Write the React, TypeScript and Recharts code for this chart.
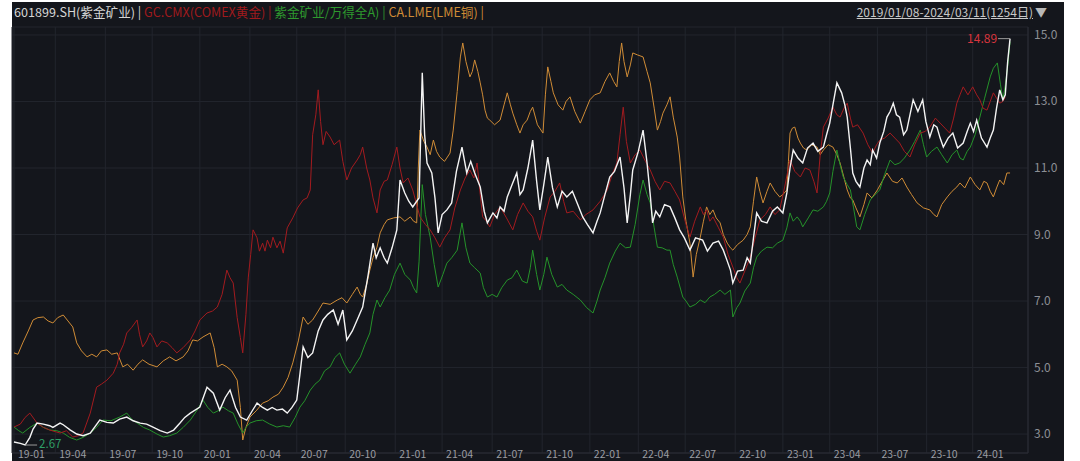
import React from 'react';
import { LineChart, Line, XAxis, YAxis, CartesianGrid, ReferenceDot } from 'recharts';

// [trading-day index, value]
const zijinPrice: [number, number][] = [
  [0, 2.76], [8, 2.72], [14, 2.67], [20, 2.9], [24, 3.15], [29, 3.33], [37, 3.3], [45, 3.25], [49, 3.2], [58, 3.33],
  [62, 3.28], [71, 3.12], [79, 3.0], [87, 2.95], [96, 3.03], [108, 3.42], [117, 3.35], [125, 3.33], [133, 3.45], [142, 3.51],
  [150, 3.4], [159, 3.33], [167, 3.3], [175, 3.21], [184, 3.1], [193, 3.03], [201, 3.12], [209, 3.33], [215, 3.5], [222, 3.63],
  [234, 3.81], [243, 4.41], [251, 4.23], [259, 3.72], [266, 4.1], [272, 4.32], [279, 3.8], [285, 3.51], [293, 3.42], [300, 3.7],
  [306, 3.93], [313, 3.8], [319, 3.72], [325, 3.8], [331, 3.72], [338, 3.75], [344, 3.63], [350, 3.8], [356, 4.02], [360, 4.8],
  [364, 5.62], [370, 5.3], [376, 5.44], [383, 6.1], [389, 6.43], [395, 6.6], [402, 6.73], [408, 6.3], [414, 6.73], [419, 5.83],
  [426, 6.1], [432, 6.43], [439, 6.82], [446, 7.8], [452, 8.74], [456, 8.3], [461, 8.6], [466, 8.3], [470, 8.14], [476, 8.6],
  [482, 9.14], [486, 10.64], [492, 10.25], [497, 10.0], [502, 9.83], [507, 10.0], [510, 10.1], [514, 13.86], [517, 12.0], [520, 11.15],
  [526, 10.85], [530, 10.1], [534, 9.05], [539, 9.6], [545, 9.74], [551, 9.95], [557, 10.9], [564, 11.63], [570, 10.85], [575, 11.2],
  [580, 10.85], [587, 10.43], [592, 9.7], [596, 9.35], [603, 9.65], [608, 9.5], [612, 9.83], [617, 9.7], [621, 10.13], [627, 10.5],
  [633, 10.85], [637, 10.2], [641, 10.34], [647, 11.0], [653, 11.84], [658, 10.6], [662, 9.74], [667, 10.5], [672, 11.33], [678, 10.4],
  [684, 9.83], [690, 10.3], [696, 10.13], [703, 10.3], [709, 9.95], [716, 9.53], [722, 9.3], [729, 9.05], [734, 9.4], [738, 9.65],
  [744, 10.2], [750, 10.73], [756, 10.9], [763, 11.33], [768, 10.4], [772, 9.35], [776, 10.2], [779, 10.94], [786, 11.5], [792, 12.14],
  [797, 11.15], [801, 10.2], [804, 9.35], [808, 9.7], [813, 9.53], [819, 9.9], [826, 9.83], [832, 9.5], [838, 9.14], [844, 8.9],
  [851, 8.53], [858, 8.9], [867, 8.83], [873, 8.5], [880, 8.74], [887, 8.8], [893, 8.53], [898, 8.2], [902, 7.93], [905, 7.54],
  [911, 7.9], [918, 7.93], [923, 8.3], [927, 8.14], [931, 8.9], [935, 9.65], [941, 9.4], [948, 9.35], [955, 9.7], [961, 9.83],
  [968, 9.65], [973, 10.25], [977, 11.0], [981, 11.54], [987, 11.3], [993, 11.15], [999, 11.6], [1006, 11.75], [1012, 11.5], [1019, 11.63],
  [1023, 12.0], [1027, 12.35], [1031, 12.9], [1036, 13.56], [1042, 13.26], [1046, 12.9], [1049, 12.53], [1053, 11.6], [1056, 10.85], [1060, 10.6],
  [1065, 10.43], [1070, 11.0], [1074, 11.24], [1078, 11.1], [1081, 11.54], [1086, 11.3], [1090, 11.75], [1095, 12.1], [1099, 12.53], [1103, 12.7],
  [1107, 12.95], [1111, 12.6], [1115, 12.53], [1120, 12.0], [1124, 12.14], [1128, 12.6], [1132, 13.05], [1138, 12.7], [1144, 13.05], [1148, 12.4],
  [1153, 11.93], [1158, 12.3], [1162, 12.23], [1166, 11.9], [1170, 11.63], [1176, 11.9], [1182, 12.05], [1188, 11.6], [1195, 11.75], [1200, 12.1],
  [1204, 12.35], [1208, 12.1], [1212, 12.44], [1218, 11.9], [1225, 11.63], [1229, 11.9], [1233, 12.14], [1237, 12.8], [1241, 13.35], [1245, 13.05],
  [1248, 13.2], [1251, 14.2], [1254, 14.89],
];

const comexGold: [number, number][] = [
  [0, 3.21], [8, 3.3], [14, 3.5], [20, 3.63], [29, 3.33], [37, 3.2], [45, 3.12], [58, 3.03], [66, 3.1], [74, 2.91],
  [81, 2.95], [87, 3.03], [96, 3.63], [104, 4.41], [110, 4.5], [117, 4.62], [125, 4.83], [130, 5.1], [133, 5.44], [138, 5.7],
  [142, 6.04], [148, 6.2], [155, 6.43], [158, 6.0], [162, 5.62], [167, 5.8], [171, 6.04], [175, 5.9], [180, 5.62], [186, 5.8],
  [193, 5.74], [199, 5.6], [205, 5.44], [213, 5.6], [222, 5.83], [228, 6.1], [234, 6.43], [243, 6.64], [250, 6.7], [256, 6.82],
  [262, 7.2], [268, 7.93], [272, 7.7], [276, 7.54], [281, 6.5], [285, 5.9], [288, 5.44], [292, 6.6], [295, 7.72], [298, 8.4],
  [301, 9.14], [306, 8.9], [309, 8.5], [313, 8.74], [316, 8.5], [319, 8.83], [323, 8.6], [326, 8.92], [331, 8.6], [335, 8.8],
  [339, 8.44], [344, 9.2], [351, 9.5], [357, 9.8], [364, 10.04], [369, 10.1], [373, 10.34], [376, 12.0], [380, 12.6], [383, 13.35],
  [386, 12.4], [389, 11.7], [393, 12.1], [398, 11.93], [403, 11.7], [410, 11.84], [414, 11.2], [419, 10.64], [425, 11.0], [432, 11.24],
  [436, 11.4], [439, 11.63], [444, 11.0], [448, 10.64], [452, 10.1], [457, 9.65], [461, 10.34], [466, 10.6], [470, 10.64], [476, 11.1],
  [482, 11.63], [486, 11.0], [490, 10.55], [496, 10.7], [502, 10.34], [507, 9.9], [511, 9.53], [518, 9.3], [524, 9.14], [530, 8.9],
  [536, 8.62], [542, 8.9], [549, 9.14], [555, 9.8], [562, 10.34], [568, 10.7], [574, 10.94], [579, 10.7], [583, 11.15], [587, 10.2],
  [590, 9.53], [595, 9.4], [599, 9.23], [605, 9.6], [612, 9.83], [620, 9.5], [628, 9.14], [634, 9.6], [641, 9.95], [647, 9.7],
  [653, 9.53], [658, 9.1], [662, 8.83], [668, 9.5], [675, 10.13], [681, 10.3], [687, 10.55], [692, 10.0], [696, 9.65], [704, 9.7],
  [713, 9.44], [720, 9.6], [729, 9.74], [738, 10.0], [747, 10.34], [753, 10.8], [759, 11.15], [763, 12.0], [767, 12.83], [771, 11.8],
  [776, 11.15], [782, 11.4], [788, 11.54], [795, 11.2], [801, 10.94], [807, 10.6], [813, 10.34], [819, 10.6], [826, 10.55], [832, 10.3],
  [838, 10.04], [845, 9.4], [851, 8.92], [857, 9.4], [864, 9.83], [868, 9.6], [872, 9.74], [876, 9.4], [880, 9.53], [887, 9.2],
  [893, 8.92], [899, 8.4], [905, 8.02], [910, 7.7], [914, 7.54], [920, 7.9], [927, 8.32], [933, 8.9], [939, 9.44], [946, 9.6],
  [952, 9.83], [958, 9.6], [964, 9.74], [970, 10.4], [977, 11.24], [983, 10.9], [990, 10.73], [996, 11.0], [1002, 10.94], [1007, 10.6],
  [1011, 10.25], [1015, 11.4], [1019, 12.23], [1025, 12.5], [1031, 12.83], [1036, 12.6], [1040, 12.53], [1045, 12.8], [1049, 12.95], [1053, 12.5],
  [1056, 12.23], [1062, 12.3], [1069, 12.05], [1075, 11.7], [1081, 11.45], [1086, 11.7], [1090, 11.84], [1096, 11.9], [1103, 12.05], [1109, 11.9],
  [1115, 11.75], [1121, 11.5], [1128, 11.33], [1134, 11.7], [1141, 12.05], [1147, 12.1], [1153, 12.23], [1160, 12.5], [1166, 12.35], [1172, 12.2],
  [1178, 12.05], [1183, 12.5], [1187, 12.95], [1191, 13.2], [1195, 13.44], [1201, 13.2], [1207, 13.44], [1212, 13.2], [1216, 13.05], [1220, 12.8],
  [1225, 12.74], [1229, 13.0], [1233, 13.26], [1237, 13.1], [1241, 12.95], [1245, 13.0], [1248, 13.14],
];

const zijinVsWindA: [number, number][] = [
  [0, 3.21], [6, 3.1], [11, 3.03], [20, 3.2], [29, 3.33], [37, 3.2], [45, 3.12], [54, 3.1], [62, 3.03], [70, 2.9],
  [79, 2.82], [87, 2.9], [96, 3.03], [104, 3.2], [112, 3.42], [122, 3.4], [133, 3.51], [142, 3.63], [148, 3.45], [155, 3.33],
  [163, 3.2], [171, 3.12], [180, 3.0], [188, 2.91], [196, 2.95], [205, 3.03], [213, 3.2], [222, 3.42], [230, 3.7], [238, 4.02],
  [244, 3.8], [251, 3.63], [257, 3.7], [263, 3.81], [270, 3.7], [276, 3.63], [282, 3.3], [288, 3.03], [292, 3.2], [297, 3.33],
  [305, 3.4], [313, 3.42], [322, 3.3], [331, 3.21], [339, 3.25], [347, 3.21], [354, 3.5], [360, 3.81], [366, 4.0], [373, 4.32],
  [379, 4.5], [385, 4.62], [391, 4.9], [398, 5.02], [404, 5.3], [410, 5.44], [416, 5.1], [423, 4.83], [430, 5.1], [436, 5.32],
  [442, 5.7], [448, 6.04], [452, 6.6], [457, 7.03], [461, 6.82], [467, 7.1], [473, 7.33], [479, 7.8], [486, 8.14], [492, 7.8],
  [499, 7.63], [503, 7.4], [507, 7.24], [510, 8.2], [514, 10.5], [518, 9.6], [524, 8.92], [529, 8.1], [534, 7.42], [540, 7.8],
  [545, 8.14], [551, 8.3], [558, 8.53], [564, 9.35], [569, 8.6], [574, 8.14], [580, 8.0], [587, 7.84], [591, 7.4], [596, 7.12],
  [602, 7.2], [608, 7.12], [614, 7.4], [621, 7.63], [627, 7.7], [633, 7.93], [640, 7.6], [646, 7.54], [650, 8.0], [653, 8.53],
  [658, 7.8], [662, 7.33], [667, 7.8], [671, 8.32], [677, 7.8], [684, 7.42], [690, 7.5], [696, 7.33], [704, 7.2], [713, 7.03],
  [721, 6.8], [729, 6.64], [734, 7.0], [738, 7.33], [744, 7.7], [750, 8.14], [757, 8.5], [763, 8.74], [770, 8.6], [776, 8.62],
  [782, 9.3], [788, 10.2], [792, 10.64], [797, 10.2], [801, 9.95], [806, 9.2], [810, 8.62], [816, 8.6], [822, 8.53], [826, 8.53],
  [830, 8.1], [835, 7.72], [842, 7.12], [846, 7.0], [851, 6.82], [858, 6.9], [864, 7.03], [870, 6.95], [876, 7.12], [882, 7.2],
  [889, 7.33], [895, 7.2], [902, 7.33], [905, 6.52], [910, 6.8], [914, 6.94], [920, 7.3], [927, 7.54], [931, 8.0], [935, 8.32],
  [941, 8.5], [948, 8.62], [955, 8.6], [961, 8.74], [968, 8.83], [973, 9.2], [977, 9.65], [981, 9.4], [986, 9.53], [990, 9.4],
  [993, 9.23], [1000, 9.5], [1006, 9.74], [1012, 9.7], [1019, 9.83], [1023, 10.0], [1027, 10.25], [1031, 10.9], [1036, 11.54], [1040, 11.1],
  [1044, 10.73], [1049, 10.5], [1053, 10.34], [1057, 9.8], [1061, 9.23], [1065, 9.14], [1071, 9.6], [1078, 10.04], [1084, 10.2], [1090, 10.34],
  [1096, 10.8], [1103, 11.24], [1109, 11.1], [1115, 11.15], [1121, 11.3], [1128, 11.54], [1134, 11.8], [1141, 12.14], [1145, 11.7], [1149, 11.33],
  [1155, 11.5], [1162, 11.63], [1168, 11.4], [1175, 11.15], [1181, 11.4], [1187, 11.54], [1191, 11.3], [1195, 11.24], [1200, 11.5], [1204, 11.63],
  [1210, 12.0], [1216, 12.53], [1222, 13.1], [1229, 13.74], [1233, 14.0], [1238, 14.16], [1242, 13.5], [1245, 13.05], [1248, 13.5], [1251, 14.04],
  [1254, 14.8],
];

const lmeCopper: [number, number][] = [
  [0, 5.44], [5, 5.4], [11, 5.74], [18, 6.1], [24, 6.43], [30, 6.5], [37, 6.52], [43, 6.4], [49, 6.34], [55, 6.5],
  [62, 6.58], [68, 6.4], [74, 6.22], [79, 5.74], [85, 5.5], [92, 5.32], [98, 5.4], [104, 5.32], [110, 5.5], [117, 5.53],
  [123, 5.4], [130, 5.44], [137, 5.02], [143, 5.1], [150, 4.92], [156, 5.1], [162, 5.23], [170, 5.1], [180, 5.02], [188, 5.2],
  [196, 5.32], [204, 5.2], [213, 5.32], [219, 5.5], [225, 5.83], [231, 5.8], [238, 5.92], [247, 6.04], [252, 5.6], [256, 5.02],
  [262, 5.1], [268, 5.02], [274, 4.9], [281, 4.62], [285, 3.8], [288, 2.82], [292, 3.2], [297, 3.51], [305, 3.7], [313, 3.93],
  [320, 4.0], [326, 4.11], [333, 4.2], [339, 4.41], [345, 4.7], [351, 5.14], [358, 5.8], [364, 6.52], [370, 6.3], [376, 6.43],
  [383, 6.7], [389, 6.94], [398, 6.9], [407, 7.03], [413, 7.1], [419, 6.94], [426, 7.2], [432, 7.42], [436, 7.2], [439, 7.12],
  [444, 7.5], [448, 7.93], [452, 8.3], [457, 8.62], [461, 9.05], [466, 9.3], [470, 9.44], [478, 9.5], [486, 9.53], [492, 9.4],
  [499, 9.53], [503, 9.4], [507, 9.35], [509, 11.0], [511, 12.14], [516, 11.8], [520, 11.63], [524, 11.4], [528, 11.84], [532, 11.5],
  [536, 11.33], [542, 11.2], [549, 11.45], [553, 12.14], [558, 13.3], [562, 14.34], [565, 14.76], [569, 14.2], [574, 13.74], [577, 13.9],
  [580, 14.25], [584, 13.9], [587, 13.56], [590, 13.2], [593, 12.74], [596, 12.5], [599, 12.44], [605, 12.3], [612, 12.44], [617, 12.9],
  [621, 13.26], [625, 12.9], [628, 12.65], [633, 12.3], [637, 12.05], [641, 12.3], [646, 12.44], [650, 12.7], [653, 12.83], [659, 12.3],
  [666, 12.05], [669, 13.2], [672, 14.04], [676, 13.6], [679, 13.26], [685, 12.9], [691, 12.74], [695, 13.0], [700, 13.14], [706, 12.7],
  [713, 12.35], [719, 12.7], [725, 13.05], [731, 13.2], [738, 13.26], [744, 13.6], [750, 13.86], [755, 13.6], [759, 13.44], [762, 14.2],
  [765, 14.76], [768, 14.2], [772, 13.74], [776, 14.1], [779, 14.46], [785, 14.4], [792, 14.34], [797, 13.9], [801, 13.56], [806, 12.8],
  [810, 12.14], [814, 12.4], [817, 12.65], [822, 12.9], [826, 13.14], [830, 12.53], [835, 11.93], [838, 11.33], [842, 10.13], [846, 9.4],
  [851, 8.74], [855, 7.72], [859, 8.4], [864, 8.92], [868, 9.4], [872, 9.83], [876, 9.6], [880, 9.74], [884, 9.5], [889, 9.35],
  [893, 9.0], [898, 8.74], [902, 8.6], [905, 8.53], [911, 8.7], [918, 8.83], [923, 9.0], [927, 9.23], [931, 10.0], [935, 10.73],
  [939, 10.3], [943, 9.95], [948, 10.3], [952, 10.55], [958, 10.3], [964, 10.13], [968, 10.2], [973, 10.34], [975, 11.2], [977, 12.05],
  [980, 12.2], [983, 12.23], [987, 11.9], [990, 11.75], [994, 11.6], [998, 11.54], [1004, 11.7], [1011, 11.63], [1015, 11.4], [1019, 11.54],
  [1025, 11.7], [1031, 11.63], [1036, 11.4], [1040, 11.15], [1045, 10.7], [1049, 10.34], [1053, 10.1], [1056, 10.04], [1060, 9.8], [1065, 9.53],
  [1070, 9.9], [1074, 10.25], [1080, 10.1], [1087, 10.34], [1093, 10.6], [1099, 10.85], [1106, 10.6], [1112, 10.55], [1118, 10.7], [1124, 10.43],
  [1130, 10.2], [1137, 9.95], [1145, 9.8], [1153, 9.74], [1158, 9.6], [1162, 9.53], [1168, 9.9], [1175, 10.13], [1181, 10.3], [1187, 10.43],
  [1191, 10.55], [1197, 10.4], [1204, 10.73], [1210, 10.5], [1216, 10.34], [1221, 10.6], [1225, 10.55], [1229, 10.3], [1233, 10.13], [1237, 10.4],
  [1241, 10.64], [1246, 10.5], [1250, 10.85], [1254, 10.85],
];

const tickDays = [0, 52, 115, 174, 234, 297, 356, 417, 480, 539, 602, 665, 725, 786, 845, 908, 968, 1027, 1087, 1149, 1207];
const tickLabels = ['19-01', '19-04', '19-07', '19-10', '20-01', '20-04', '20-07', '20-10', '21-01', '21-04', '21-07',
  '21-10', '22-01', '22-04', '22-07', '22-10', '23-01', '23-04', '23-07', '23-10', '24-01'];
const yTicks = [3, 5, 7, 9, 11, 13, 15];

const maxPoint = { day: 1254, value: 14.89, label: '14.89' };
const minPoint = { day: 14, value: 2.67, label: '2.67' };

const toRows = (pairs: [number, number][]) => pairs.map(([d, v]) => ({ d, v }));

const FONT = '"Noto Sans CJK SC", "Noto Sans", sans-serif';

const XTick = (props: any) => {
  const { x, y, payload } = props;
  const idx = tickDays.indexOf(payload.value);
  const label = idx >= 0 ? tickLabels[idx] : '';
  return (
    <text x={x + 4} y={y + 5} fill="#9a9ca2" fontSize={10.5} fontFamily={FONT} textAnchor="start">
      {label}
    </text>
  );
};

const YTick = (props: any) => {
  const { x, y, payload } = props;
  return (
    <text x={x + 6} y={y} dy={4} fill="#8c8f95" fontSize={12} fontFamily={FONT} textAnchor="start">
      {Number(payload.value).toFixed(1)}
    </text>
  );
};

export default function App() {
  return (
    <div style={{ position: 'fixed', left: 0, top: 0, width: 1080, height: 461, background: '#ffffff', overflow: 'hidden' }}>
      <div style={{ position: 'absolute', left: 12, top: 2, width: 1052, height: 459, background: '#14161c' }} />
      <div style={{ position: 'absolute', left: 14, top: 4, fontSize: 12.6, lineHeight: '16px', fontFamily: FONT, whiteSpace: 'pre' }}>
        <span style={{ color: '#d6d6d6' }}>601899.SH(紫金矿业) | </span>
        <span style={{ color: '#a01a1d' }}>GC.CMX(COMEX黄金) | </span>
        <span style={{ color: '#2e9a2e' }}>紫金矿业/万得全A) | </span>
        <span style={{ color: '#d08c36' }}>CA.LME(LME铜) |</span>
      </div>
      <div style={{ position: 'absolute', right: 33, top: 4, fontSize: 12, lineHeight: '16px', fontFamily: FONT, whiteSpace: 'pre', color: '#c8c8c8' }}>
        <span style={{ textDecoration: 'underline' }}>2019/01/08-2024/03/11(1254日)</span>
        <span style={{ color: '#b8b8b8', marginLeft: 2 }}>▼</span>
      </div>
      <div style={{ position: 'absolute', left: 0, top: 0 }}>
        <LineChart width={1080} height={461} margin={{ top: 27, right: 0, bottom: 0, left: 12 }}>
          <CartesianGrid stroke="#22252d" strokeWidth={1} />
          <XAxis
            type="number"
            dataKey="d"
            domain={[-2.5, 1276.6]}
            ticks={tickDays}
            allowDataOverflow
            height={8}
            axisLine={{ stroke: '#2a2d35' }}
            tickLine={false}
            tickSize={0}
            tickMargin={0}
            tick={<XTick />}
            interval={0}
          />
          <YAxis
            type="number"
            orientation="right"
            domain={[2.43, 15.24]}
            ticks={yTicks}
            allowDataOverflow
            width={52}
            axisLine={{ stroke: '#2a2d35' }}
            tickLine={false}
            tickSize={0}
            tickMargin={0}
            tick={<YTick />}
            interval={0}
          />
          <Line data={toRows(lmeCopper)} dataKey="v" type="linear" stroke="#d08c36" strokeWidth={1} dot={false} isAnimationActive={false} />
          <Line data={toRows(zijinVsWindA)} dataKey="v" type="linear" stroke="#25922a" strokeWidth={1} dot={false} isAnimationActive={false} />
          <Line data={toRows(comexGold)} dataKey="v" type="linear" stroke="#a31b1f" strokeWidth={1} dot={false} isAnimationActive={false} />
          <Line data={toRows(zijinPrice)} dataKey="v" type="linear" stroke="#f4f4f4" strokeWidth={1.4} dot={false} isAnimationActive={false} />
          <ReferenceDot
            x={maxPoint.day}
            y={maxPoint.value}
            r={0}
            ifOverflow="visible"
            shape={(p: any) => (
              <g>
                <line x1={p.cx - 12} y1={p.cy} x2={p.cx} y2={p.cy} stroke="#9a9a9a" strokeWidth={1} />
                <text x={p.cx - 13} y={p.cy} dy={4} fill="#d8353d" fontSize={12} fontFamily={FONT} textAnchor="end">{maxPoint.label}</text>
              </g>
            )}
          />
          <ReferenceDot
            x={minPoint.day}
            y={minPoint.value}
            r={0}
            ifOverflow="visible"
            shape={(p: any) => (
              <g>
                <line x1={p.cx} y1={p.cy} x2={p.cx + 12} y2={p.cy} stroke="#9a9a9a" strokeWidth={1} />
                <text x={p.cx + 14} y={p.cy} dy={3} fill="#2f9d66" fontSize={11.5} fontFamily={FONT} textAnchor="start">{minPoint.label}</text>
              </g>
            )}
          />
        </LineChart>
      </div>
    </div>
  );
}
